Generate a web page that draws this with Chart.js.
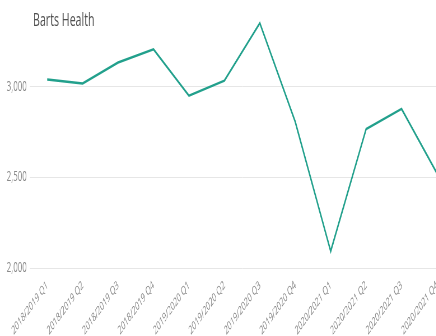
<!DOCTYPE html>
<html>
<head>
<meta charset="utf-8">
<script src="https://cdn.jsdelivr.net/npm/chart.js@4"></script>
<style>
    html, body { margin: 0; padding: 0; background: #fff; overflow: hidden; width: 436px; height: 336px; }
    #wrap { position: absolute; left: 0; top: 0; width: 812px; height: 336px; transform: scaleX(0.56); transform-origin: 0 0; }
    #title { position: absolute; left: 59px; top: 6px; font-family: "Open Sans", sans-serif; font-size: 19px; color: #505050; }
</style>
</head>
<body>
<div id="wrap">
    <canvas id="myChart" width="812" height="336"></canvas>
    <div id="title">Barts Health</div>
</div>
<script>
const Quarters = ['2018/2019 Q1', '2018/2019 Q2', '2018/2019 Q3', '2018/2019 Q4',
    '2019/2020 Q1', '2019/2020 Q2', '2019/2020 Q3', '2019/2020 Q4',
    '2020/2021 Q1', '2020/2021 Q2', '2020/2021 Q3', '2020/2021 Q4'];
const Amount = [3039, 3017, 3133, 3206, 2950, 3033, 3350, 2806, 2094, 2767, 2878, 2522];
const YTicks = [2000, 2500, 3000];

function initchart() {
    const data = {
        labels: Quarters,
        datasets: [
            {
                label: 'Barts Health',
                data: Amount,
                borderColor: '#22a08c',
                borderWidth: 2.5,
                pointRadius: 0,
                tension: 0,
                fill: false
            }
        ]
    };

    const config = {
        type: 'line',
        data: data,
        options: {
            responsive: false,
            animation: false,
            devicePixelRatio: 1,
            layout: { padding: { left: 7, top: 14, right: 0, bottom: -4 } },
            plugins: {
                legend: { display: false },
                tooltip: { enabled: false }
            },
            scales: {
                x: {
                    offset: true,
                    grid: { display: false },
                    border: { display: false },
                    ticks: {
                        autoSkip: false,
                        minRotation: 38,
                        maxRotation: 38,
                        color: '#8a8a8a',
                        font: { family: 'Open Sans', size: 12 },
                        padding: 2
                    }
                },
                y: {
                    min: 2000,
                    max: 3400,
                    afterBuildTicks: (axis) => {
                        axis.ticks = YTicks.map(v => ({ value: v }));
                    },
                    grid: { color: '#e6e6e6', lineWidth: 1, drawTicks: false },
                    border: { display: false },
                    ticks: {
                        color: '#8a8a8a',
                        padding: 5,
                        font: { family: 'Open Sans', size: 14 },
                        callback: (v) => v.toLocaleString('en-US')
                    }
                }
            }
        }
    };

    const myChart = new Chart(document.getElementById('myChart'), config);
}

initchart();
</script>
</body>
</html>
